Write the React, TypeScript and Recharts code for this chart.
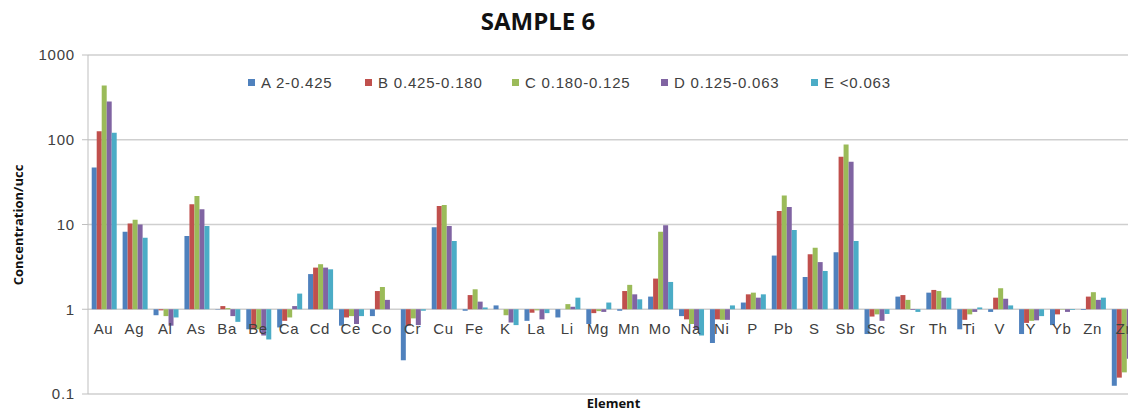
import React from 'react'
import { BarChart, Bar, XAxis, YAxis, CartesianGrid } from 'recharts'

// element-wise concentration ratios (normalised to upper continental crust)
const ELEMENTS = [
  'Au', 'Ag', 'Al', 'As', 'Ba', 'Be', 'Ca', 'Cd', 'Ce', 'Co', 'Cr', 'Cu', 'Fe', 'K', 'La', 'Li', 'Mg',
  'Mn', 'Mo', 'Na', 'Ni', 'P', 'Pb', 'S', 'Sb', 'Sc', 'Sr', 'Th', 'Ti', 'V', 'Y', 'Yb', 'Zn', 'Zr',
]

const FRACTION_A = [
  47, 8.2, 0.85, 7.3, 0.99, 0.58, 0.61, 2.6, 0.64, 0.83, 0.25, 9.3, 0.96, 1.11, 0.73, 0.8, 0.67,
  0.96, 1.41, 0.83, 0.4, 1.2, 4.3, 2.4, 4.7, 0.51, 1.41, 1.57, 0.58, 0.93, 0.51, 0.65, 0.98, 0.125,
]
const FRACTION_B = [
  126, 10.3, 0.97, 17.3, 1.09, 0.58, 0.73, 3.1, 0.8, 1.64, 0.64, 16.5, 1.47, 1.0, 0.91, 1.0, 0.9,
  1.64, 2.3, 0.76, 0.76, 1.5, 14.4, 4.45, 63, 0.82, 1.47, 1.69, 0.75, 1.37, 0.69, 0.87, 1.41, 0.156,
]
const FRACTION_C = [
  438, 11.4, 0.83, 21.7, 1.03, 0.58, 0.8, 3.4, 0.83, 1.83, 0.78, 17, 1.72, 0.85, 0.97, 1.15, 0.95,
  1.94, 8.2, 0.67, 0.75, 1.57, 22, 5.3, 88, 0.87, 1.29, 1.64, 0.87, 1.77, 0.73, 0.99, 1.59, 0.18,
]
const FRACTION_D = [
  283, 10, 0.64, 15.1, 0.83, 0.49, 1.09, 3.1, 0.67, 1.29, 0.65, 9.6, 1.23, 0.7, 0.76, 1.07, 0.93,
  1.5, 9.8, 0.58, 0.75, 1.37, 16.1, 3.6, 55, 0.73, 0.98, 1.37, 0.93, 1.33, 0.74, 0.93, 1.29, 0.26,
]
const FRACTION_E = [
  121, 7.0, 0.8, 9.6, 0.71, 0.44, 1.53, 2.96, 0.83, 1.0, 0.96, 6.4, 1.05, 0.65, 0.9, 1.37, 1.2,
  1.31, 2.1, 0.49, 1.11, 1.5, 8.6, 2.83, 6.4, 0.88, 0.93, 1.37, 1.05, 1.11, 0.83, 0.98, 1.37, 0.28,
]

const Y_TICKS = [0.1, 1, 10, 100, 1000]

const SERIES = [
  { key: 'A', name: 'A 2-0.425', color: '#4F81BD', values: FRACTION_A },
  { key: 'B', name: 'B 0.425-0.180', color: '#C0504D', values: FRACTION_B },
  { key: 'C', name: 'C 0.180-0.125', color: '#9BBB59', values: FRACTION_C },
  { key: 'D', name: 'D 0.125-0.063', color: '#8064A2', values: FRACTION_D },
  { key: 'E', name: 'E <0.063', color: '#4BACC6', values: FRACTION_E },
]

const data = ELEMENTS.map((el, i) => {
  const row: Record<string, any> = { el }
  SERIES.forEach(s => { row[s.key] = s.values[i] })
  return row
})

// layout
const CHART_W = 1150
const CHART_H = 412
const PLOT_TOP = 55
const X_AXIS_H = 18
const Y_AXIS_W = 88
const PLOT_H = CHART_H - PLOT_TOP - X_AXIS_H
// horizontal axis crosses at 1 (3 decades down from 1000 out of 4)
const CROSS_Y = PLOT_TOP + PLOT_H * 3 / 4
const LEGEND_X = [248, 365, 512, 661, 811]

const FONT = '"Liberation Sans", Arial, sans-serif'
const TEXT = '#404040'

// bars hang from 1, up or down
const fromOne = (key: string) => (d: any) => (d[key] >= 1 ? [1, d[key]] : [d[key], 1])

function ElementTick({ x, payload }: any) {
  return (
    <text x={x} y={CROSS_Y + 25} textAnchor="middle" fontSize={15} letterSpacing={0.6}
      fill={TEXT} fontFamily={FONT}>
      {payload.value}
    </text>
  )
}

function SeriesLegend() {
  return (
    <div style={{ position: 'absolute', top: 74, left: 0, height: 20, fontFamily: FONT, fontSize: 15, color: TEXT, letterSpacing: 0.8 }}>
      {SERIES.map((s, i) => (
        <div key={s.key} style={{ position: 'absolute', left: LEGEND_X[i], top: 0, display: 'flex', alignItems: 'center', whiteSpace: 'nowrap' }}>
          <span style={{ width: 7, height: 7, background: s.color, marginRight: 6, display: 'inline-block' }} />
          <span>{s.name}</span>
        </div>
      ))}
    </div>
  )
}

export default function App() {
  return (
    <div style={{ position: 'fixed', top: 0, left: 0, width: 1128, height: 412, overflow: 'hidden', background: '#fff' }}>
      <BarChart width={CHART_W} height={CHART_H} data={data}
        margin={{ top: PLOT_TOP, right: 11, bottom: 0, left: 0 }}
        barCategoryGap="12%" barGap={0}>
        <CartesianGrid vertical={false} stroke="#cfcfcf" strokeWidth={1.5} />
        <YAxis type="number" scale="log" domain={[0.1, 1000]} ticks={Y_TICKS} allowDataOverflow
          width={Y_AXIS_W} stroke="#bfbfbf" tickSize={6} tickMargin={7}
          tick={{ fontSize: 15, fill: TEXT, fontFamily: FONT, letterSpacing: 0.8 }} />
        {SERIES.map(s => (
          <Bar key={s.key} dataKey={fromOne(s.key)} name={s.name} fill={s.color} isAnimationActive={false} />
        ))}
        <XAxis dataKey="el" height={X_AXIS_H} interval={0} axisLine={false} tickLine={false}
          tick={<ElementTick />}
          label={{ value: 'Element', position: 'center', fontSize: 13, fontWeight: 700, fill: '#111', fontFamily: '"Open Sans", sans-serif' }} />
      </BarChart>
      <div style={{
        position: 'absolute', top: 4, left: 0, width: 1076, textAlign: 'center',
        fontFamily: '"Open Sans", sans-serif', fontWeight: 700, fontSize: 24, color: '#111',
      }}>
        SAMPLE 6
      </div>
      <div style={{
        position: 'absolute', left: 18, top: 225, transform: 'translate(-50%, -50%) rotate(-90deg)',
        fontFamily: '"Open Sans", sans-serif', fontWeight: 700, fontSize: 13, color: '#111', whiteSpace: 'nowrap',
      }}>
        Concentration/ucc
      </div>
      <SeriesLegend />
    </div>
  )
}
